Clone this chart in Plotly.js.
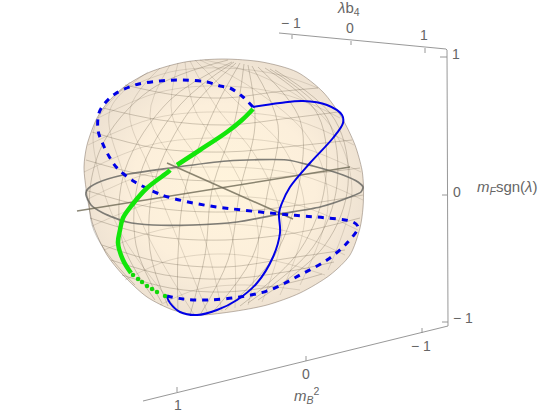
<!DOCTYPE html>
<html>
<head>
<meta charset="utf-8">
<script src="https://cdn.plot.ly/plotly-3.0.1.min.js"></script>
<style>html,body{margin:0;padding:0;background:#fff}</style>
</head>
<body>
<div id="plot" style="width:554px;height:415px"></div>
<script>
let blobX = [223,262,297,323,342,355,362,363.5,363,360,350,330,300,267,230,197,173,147,123,107,93,87,84,87,97,108,124,150,185,223];
let blobY = [59,62,72,92,118,145,170,187,208,228,255,275,293,305,312,315,310,297,275,255,225,195,167,145,118,102,87,72,62,59];

// wire mesh, one row per curve: front of the surface
let meshX = [
  [228,150,100,92,135],[232,170,125,122,155],[234,180,140,136,162],[236,190,155,150,168],
  [240,212,185,178,178],[244,235,212,205,190],[248,255,240,228,200],
  [252,278,268,252,212],[258,300,298,275,225],[265,318,325,300,240],[270,327,337,313,248],[275,335,348,325,258],
  [125,175,225,275,318],[103,160,225,290,338],[92,155,225,295,352],[86,150,225,300,360],
  [85,150,225,300,363],[90,155,225,295,360],[102,160,225,290,345],[111,165,225,285,334],[122,170,225,280,322]
];
let meshY = [
  [60,90,150,225,285],[62,100,170,240,300],[62,105,175,245,303],[63,110,180,250,306],
  [63,115,190,255,312],[64,120,190,255,315],[65,125,190,260,315],
  [66,125,190,258,313],[67,120,190,255,310],[68,115,185,250,306],[69,118,185,247,303],[70,120,185,245,300],
  [85,95,98,92,88],[108,120,125,118,112],[132,148,152,146,140],[160,176,181,175,168],
  [190,207,212,205,195],[218,236,240,233,218],[245,262,267,258,250],[260,275,279,272,262],[275,288,292,285,274]
];
// back of the surface, seen through it
let backX = [
  [205,270,330,352,328],[200,255,310,328,300],[195,235,285,305,280],[190,215,258,282,262],[185,195,232,258,248],
  [178,172,205,232,235],[170,150,178,205,222],[160,130,150,178,208],[148,110,122,150,195],[130,95,98,122,180],
  [118,170,225,280,318],[98,160,225,290,340],[88,155,225,295,354],[84,150,225,300,361],[86,150,225,300,363],
  [92,155,225,295,358],[104,160,225,290,345],[125,170,225,280,325],[160,195,235,275,300]
];
let backY = [
  [60,80,125,190,270],[60,90,140,205,285],[60,100,150,215,295],[61,105,160,225,302],[62,110,165,230,305],
  [63,115,170,235,308],[65,115,170,240,311],[68,110,170,240,314],[72,110,170,240,316],[82,125,170,235,313],
  [92,72,68,75,88],[118,92,86,96,118],[145,118,112,120,145],[172,145,138,147,172],[200,173,167,175,200],
  [226,202,196,204,230],[250,230,224,232,255],[280,260,254,262,275],[305,290,285,287,290]
];

let ringX = [86,91,103,127,153,193,237,280,320,350,361,363,358,343,313,287,227,170,123,97,87,86];
let ringY = [195,205,213,222,225,225,222,214,207,197,192,187,182,175,166,160,161,168,175,183,190,195];

let innerAxisAX = [77,350];
let innerAxisAY = [211,167];
let innerAxisBX = [167,293];
let innerAxisBY = [163,219];

let greenX = [253,242,227,200,177,null,170,168,147,132,123,120,118,123,131];
let greenY = [109,120,132,150,165,null,170,172,188,205,218,230,243,260,273];
let greenDotX = [133,138,142,147,152,157,165];
let greenDotY = [275,279,282,286,289,292,296];

let blueDashX = [253,243,230,220,207,183,160,135,115,105,99,98,102,110,118,135,157,168,193,217,242,280,303,327,353,358,347,327,300,270,240,207,183,167];
let blueDashY = [107,97,88,86,82,80,81,85,94,103,113,130,142,158,169,182,193,197,203,207,210,214,216,218,222,227,243,260,275,290,297,300,299,296];
let blueLineX = [253,280,303,327,342,343,333,310,290,282,279,280,273,257,237,217,197,180,170,167];
let blueLineY = [107,103,101,105,115,123,138,163,187,203,213,233,257,283,300,310,315,312,303,297];

// frame axes and tick marks
let frameX = [279,446,447,448,143,null,292,292,null,351,351,null,425,425,null,440,447,null,442,447,null,442,448,null,177,177,null,306,306,null,422,422];
let frameY = [33,49,50,326,401,null,35,39,null,41,45,null,48,53,null,57,57,null,195,195,null,322,322,null,387,392,null,356,361,null,328,333];

let labelX = [291,350,424,348,456,457,463,507,421,306,178,307];
let labelY = [23,28,35,8,54,192,318,187,346,374,405,395];
let labelText = ['− 1','0','1','<i>λ</i>b<sub>4</sub>','1','0','− 1','<i>m<sub>F</sub></i>sgn(<i>λ</i>)','− 1','0','1','<i>m<sub>B</sub></i><sup>2</sup>'];

let traces = [];

traces.push({
  x: blobX, y: blobY, mode: 'lines', fill: 'toself',
  line: {color: 'rgba(125,110,95,0.5)', width: 1, shape: 'spline', smoothing: 0.8},
  fillgradient: {type: 'radial', colorscale: [[0, '#fff4dc'], [0.65, '#fcefdb'], [1, '#efe3d3']]}
});

for (let i = 0; i < backX.length; i++) {
  traces.push({
    x: backX[i], y: backY[i], mode: 'lines',
    line: {color: 'rgba(85,75,55,0.24)', width: 0.7, shape: 'spline'}
  });
}
for (let i = 0; i < meshX.length; i++) {
  traces.push({
    x: meshX[i], y: meshY[i], mode: 'lines',
    line: {color: 'rgba(85,75,55,0.34)', width: 0.8, shape: 'spline'}
  });
}

traces.push({x: frameX, y: frameY, mode: 'lines', line: {color: '#8c8c8c', width: 0.9}});
traces.push({x: ringX, y: ringY, mode: 'lines', line: {color: 'rgba(105,105,100,0.85)', width: 1.7, shape: 'spline', smoothing: 0.7}});
traces.push({x: innerAxisAX, y: innerAxisAY, mode: 'lines', line: {color: 'rgba(110,105,85,0.8)', width: 1.5}});
traces.push({x: innerAxisBX, y: innerAxisBY, mode: 'lines', line: {color: 'rgba(110,105,85,0.8)', width: 1.5}});
traces.push({x: blueDashX, y: blueDashY, mode: 'lines', line: {color: '#0000e6', width: 3, dash: '6px,6px', shape: 'spline'}});
traces.push({x: blueLineX, y: blueLineY, mode: 'lines', line: {color: '#0000e6', width: 2, shape: 'spline'}});
traces.push({x: greenX, y: greenY, mode: 'lines', line: {color: '#12e60a', width: 4.5, shape: 'spline'}});
traces.push({x: greenDotX, y: greenDotY, mode: 'markers', marker: {color: '#12d80a', size: 4.5}});

let annotations = labelText.map(function (t, i) {
  return {
    x: labelX[i], y: labelY[i], text: t, showarrow: false,
    xanchor: 'center', yanchor: 'middle',
    font: {family: 'Liberation Sans', size: t.length > 3 ? 15 : 14, color: '#666666'}
  };
});

let layout = {
  width: 554,
  height: 415,
  margin: {l: 0, r: 0, t: 0, b: 0},
  showlegend: false,
  paper_bgcolor: '#ffffff',
  plot_bgcolor: '#ffffff',
  hovermode: false,
  annotations: annotations,
  xaxis: {range: [0, 554], visible: false},
  yaxis: {range: [415, 0], visible: false}
};

Plotly.newPlot('plot', traces, layout, {displayModeBar: false});
</script>
</body>
</html>
